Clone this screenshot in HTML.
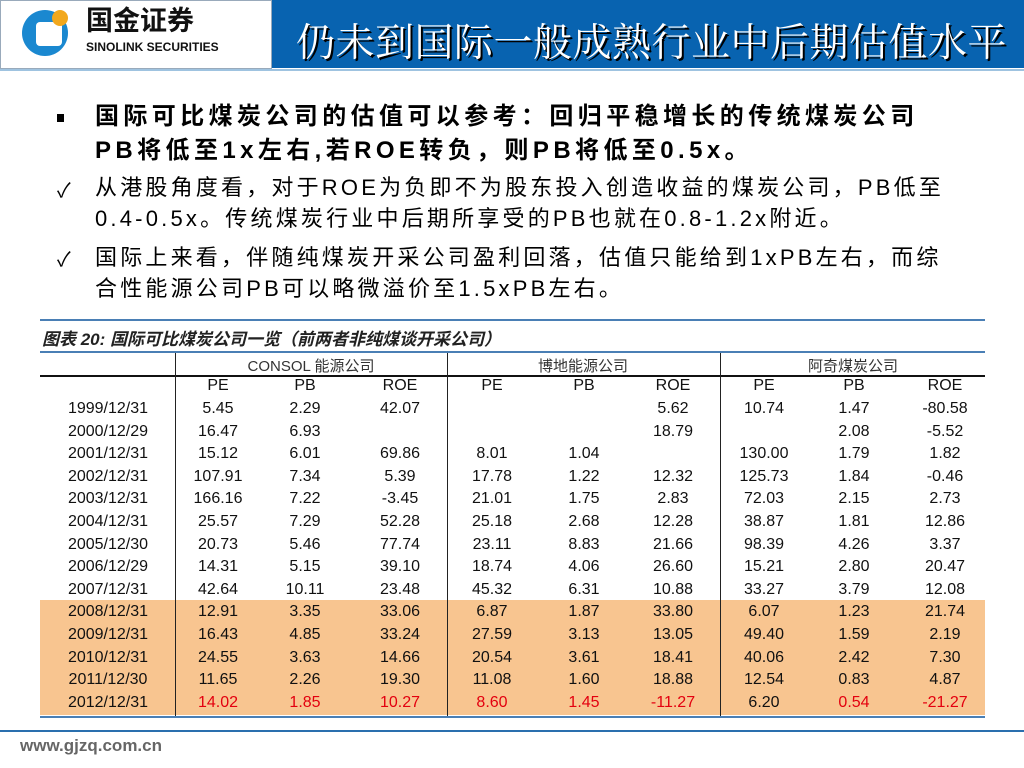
<!DOCTYPE html>
<html><head><meta charset="utf-8">
<style>
body{margin:0;width:1024px;height:768px;overflow:hidden;background:#fff;font-family:"Liberation Sans","Noto Sans CJK SC",sans-serif;position:relative}
.abs{position:absolute;white-space:nowrap}
.c{position:absolute;text-align:center;font-size:16px;color:#111;transform:translateX(-50%);white-space:nowrap}
.red{color:#e3000f}
</style></head><body>
<div class="abs" style="left:0;top:0;width:270px;height:67px;border:1px solid #9ab;background:#fff"></div>
<div class="abs" style="left:22px;top:10px;width:46px;height:46px;border-radius:50%;background:#1a88d0"></div>
<div class="abs" style="left:36px;top:22px;width:26px;height:24px;background:#fff;border-radius:4px"></div>
<div class="abs" style="left:52px;top:10px;width:16px;height:16px;border-radius:50%;background:#f2a81d"></div>
<div class="abs" style="left:86px;top:4px;font-size:27px;font-weight:bold;color:#111;line-height:34px">国金证券</div>
<div class="abs" style="left:86px;top:40px;font-size:12px;font-weight:bold;color:#111">SINOLINK SECURITIES</div>
<div class="abs" style="left:272px;top:0;width:752px;height:68px;background:#0863b0"></div>
<div class="abs" style="left:296px;top:12px;font-size:39px;letter-spacing:0.5px;color:#fff;text-shadow:2px 2px 0 #000;font-family:'Noto Serif CJK SC','Liberation Serif',serif">仍未到国际一般成熟行业中后期估值水平</div>
<div class="abs" style="left:0;top:69px;width:1024px;height:2px;background:#9fc3e0"></div>

<div class="abs" style="left:57px;top:114px;width:7px;height:8px;background:#000"></div>
<div class="abs" style="left:95px;top:100px;font-size:24px;font-weight:bold;line-height:34px;letter-spacing:4.4px">国际可比煤炭公司的估值可以参考：回归平稳增长的传统煤炭公司<br>PB将低至1x左右,若ROE转负，则PB将低至0.5x。</div>
<div class="abs" style="left:57px;top:174px;font-size:20px">✓</div>
<div class="abs" style="left:95px;top:172px;font-size:22px;line-height:31px;letter-spacing:3.2px">从港股角度看，对于ROE为负即不为股东投入创造收益的煤炭公司，PB低至<br>0.4-0.5x。传统煤炭行业中后期所享受的PB也就在0.8-1.2x附近。</div>
<div class="abs" style="left:57px;top:243px;font-size:20px">✓</div>
<div class="abs" style="left:95px;top:242px;font-size:22px;line-height:31px;letter-spacing:3.2px">国际上来看，伴随纯煤炭开采公司盈利回落，估值只能给到1xPB左右，而综<br>合性能源公司PB可以略微溢价至1.5xPB左右。</div>

<div class="abs" style="left:40px;top:319px;width:945px;height:2px;background:#4a7fb5"></div>
<div class="abs" style="left:42px;top:325px;font-size:17px;font-weight:bold;font-style:italic;color:#222">图表 20:  国际可比煤炭公司一览（前两者非纯煤谈开采公司）</div>
<div class="abs" style="left:40px;top:351px;width:945px;height:2px;background:#4a7fb5"></div>
<div class="abs" style="left:40px;top:600px;width:945px;height:115px;background:#f8c590"></div>
<div class="abs" style="left:40px;top:375px;width:945px;height:2px;background:#111"></div>
<div class="abs" style="left:40px;top:716px;width:945px;height:2px;background:#4a7fb5"></div>
<div class="abs" style="left:0;top:730px;width:1024px;height:2px;background:#2a6fae"></div>
<div class="abs" style="left:20px;top:736px;font-size:17px;font-weight:bold;color:#666">www.gjzq.com.cn</div>
<div id="tbl"></div>
<script>
const dates=["1999/12/31","2000/12/29","2001/12/31","2002/12/31","2003/12/31","2004/12/31","2005/12/30","2006/12/29","2007/12/31","2008/12/31","2009/12/31","2010/12/31","2011/12/30","2012/12/31"];
const companies=["CONSOL 能源公司","博地能源公司","阿奇煤炭公司"];
const metrics=["PE","PB","ROE"];
const consol=[["5.45","2.29","42.07"],["16.47","6.93",""],["15.12","6.01","69.86"],["107.91","7.34","5.39"],["166.16","7.22","-3.45"],["25.57","7.29","52.28"],["20.73","5.46","77.74"],["14.31","5.15","39.10"],["42.64","10.11","23.48"],["12.91","3.35","33.06"],["16.43","4.85","33.24"],["24.55","3.63","14.66"],["11.65","2.26","19.30"],["14.02","1.85","10.27"]];
const peabody=[["","","5.62"],["","","18.79"],["8.01","1.04",""],["17.78","1.22","12.32"],["21.01","1.75","2.83"],["25.18","2.68","12.28"],["23.11","8.83","21.66"],["18.74","4.06","26.60"],["45.32","6.31","10.88"],["6.87","1.87","33.80"],["27.59","3.13","13.05"],["20.54","3.61","18.41"],["11.08","1.60","18.88"],["8.60","1.45","-11.27"]];
const arch=[["10.74","1.47","-80.58"],["","2.08","-5.52"],["130.00","1.79","1.82"],["125.73","1.84","-0.46"],["72.03","2.15","2.73"],["38.87","1.81","12.86"],["98.39","4.26","3.37"],["15.21","2.80","20.47"],["33.27","3.79","12.08"],["6.07","1.23","21.74"],["49.40","1.59","2.19"],["40.06","2.42","7.30"],["12.54","0.83","4.87"],["6.20","0.54","-21.27"]];
const redLast=[[true,true,true],[true,true,true],[false,true,true]];
const T=document.getElementById('tbl');
const colX=[[218,305,400],[492,584,673],[764,854,945]];
const sepX=[175,447,720];
const groupX=[311,583,853];
const rowY=r=>400+r*22.6;
function add(txt,x,y,cls,name){const d=document.createElement('div');d.className='c '+(cls||'');d.style.left=x+'px';d.style.top=y+'px';d.textContent=txt;


T.appendChild(d);return d;}
sepX.forEach((x,i)=>{const d=document.createElement('div');d.className='abs';d.style.cssText=`left:${x}px;top:353px;width:1px;height:363px;background:#222`;


T.appendChild(d);});
companies.forEach((c,i)=>{const d=add(c,groupX[i],355,'','company-header');d.style.fontSize='15px';d.style.color='#333';});
colX.forEach(g=>g.forEach((x,j)=>add(metrics[j],x,377,'','metric-header')));
const data=[consol,peabody,arch];
dates.forEach((dt,r)=>{add(dt,108,rowY(r),'','date-cell');
data.forEach((co,g)=>co[r].forEach((v,j)=>{const last=r===dates.length-1&&redLast[g][j];add(v,colX[g][j],rowY(r),last?'red':'','value-cell');}));});
</script>
</body></html>
